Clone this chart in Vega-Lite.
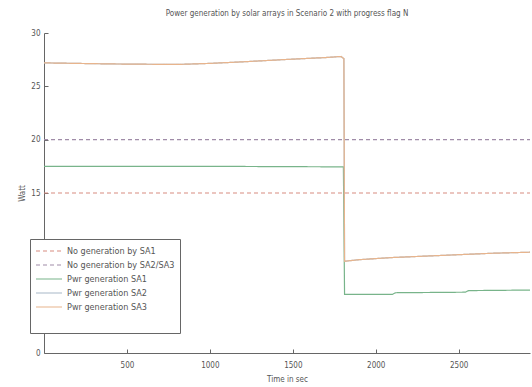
{
  "$schema": "https://vega.github.io/schema/vega-lite/v6.json",
  "width": 486,
  "height": 320,
  "autosize": "none",
  "padding": {"left": 44, "top": 33, "right": 2, "bottom": 34},
  "background": "white",
  "title": {"text": "Power generation by solar arrays in Scenario 2 with progress flag N", "font": "DejaVu Sans Condensed", "fontSize": 8, "fontWeight": "normal", "color": "#555", "offset": 11, "anchor": "middle"},
  "config": {"view": {"stroke": null}},
  "data": {"values": [
    {"t": 0, "w": 15, "series": "No generation by SA1"},
    {"t": 2930, "w": 15, "series": "No generation by SA1"},
    {"t": 0, "w": 20, "series": "No generation by SA2/SA3"},
    {"t": 2930, "w": 20, "series": "No generation by SA2/SA3"},
    {"t": 0, "w": 17.5, "series": "Pwr generation SA1"},
    {"t": 1000, "w": 17.5, "series": "Pwr generation SA1"},
    {"t": 1805, "w": 17.45, "series": "Pwr generation SA1"},
    {"t": 1812, "w": 5.5, "series": "Pwr generation SA1"},
    {"t": 2100, "w": 5.5, "series": "Pwr generation SA1"},
    {"t": 2120, "w": 5.65, "series": "Pwr generation SA1"},
    {"t": 2540, "w": 5.7, "series": "Pwr generation SA1"},
    {"t": 2560, "w": 5.85, "series": "Pwr generation SA1"},
    {"t": 2930, "w": 5.9, "series": "Pwr generation SA1"},
    {"t": 0, "w": 27.2, "series": "Pwr generation SA2"},
    {"t": 400, "w": 27.1, "series": "Pwr generation SA2"},
    {"t": 800, "w": 27.05, "series": "Pwr generation SA2"},
    {"t": 1000, "w": 27.15, "series": "Pwr generation SA2"},
    {"t": 1200, "w": 27.3, "series": "Pwr generation SA2"},
    {"t": 1500, "w": 27.55, "series": "Pwr generation SA2"},
    {"t": 1700, "w": 27.7, "series": "Pwr generation SA2"},
    {"t": 1790, "w": 27.8, "series": "Pwr generation SA2"},
    {"t": 1808, "w": 27.6, "series": "Pwr generation SA2"},
    {"t": 1812, "w": 8.6, "series": "Pwr generation SA2"},
    {"t": 1900, "w": 8.75, "series": "Pwr generation SA2"},
    {"t": 2100, "w": 8.95, "series": "Pwr generation SA2"},
    {"t": 2400, "w": 9.15, "series": "Pwr generation SA2"},
    {"t": 2700, "w": 9.35, "series": "Pwr generation SA2"},
    {"t": 2930, "w": 9.45, "series": "Pwr generation SA2"},
    {"t": 0, "w": 27.2, "series": "Pwr generation SA3"},
    {"t": 400, "w": 27.1, "series": "Pwr generation SA3"},
    {"t": 800, "w": 27.05, "series": "Pwr generation SA3"},
    {"t": 1000, "w": 27.15, "series": "Pwr generation SA3"},
    {"t": 1200, "w": 27.3, "series": "Pwr generation SA3"},
    {"t": 1500, "w": 27.55, "series": "Pwr generation SA3"},
    {"t": 1700, "w": 27.7, "series": "Pwr generation SA3"},
    {"t": 1790, "w": 27.8, "series": "Pwr generation SA3"},
    {"t": 1808, "w": 27.6, "series": "Pwr generation SA3"},
    {"t": 1812, "w": 8.6, "series": "Pwr generation SA3"},
    {"t": 1900, "w": 8.75, "series": "Pwr generation SA3"},
    {"t": 2100, "w": 8.95, "series": "Pwr generation SA3"},
    {"t": 2400, "w": 9.15, "series": "Pwr generation SA3"},
    {"t": 2700, "w": 9.35, "series": "Pwr generation SA3"},
    {"t": 2930, "w": 9.45, "series": "Pwr generation SA3"}
  ]},
  "mark": {"type": "line", "strokeWidth": 1.2, "interpolate": "linear"},
  "encoding": {
    "x": {"field": "t", "type": "quantitative", "scale": {"domain": [0, 2930], "nice": false, "zero": false},
      "axis": {"values": [500, 1000, 1500, 2000, 2500], "format": "d", "title": "Time in sec", "grid": false, "tickSize": -4, "labelPadding": 12,
        "domainColor": "#666", "tickColor": "#666", "labelFont": "DejaVu Sans Condensed", "labelFontSize": 8, "labelColor": "#555",
        "titleFont": "DejaVu Sans Condensed", "titleFontSize": 8, "titleFontWeight": "normal", "titleColor": "#555", "titlePadding": 6}},
    "y": {"field": "w", "type": "quantitative", "scale": {"domain": [0, 30], "nice": false},
      "axis": {"values": [0, 5, 10, 15, 20, 25, 30], "title": "Watt", "grid": false, "tickSize": -4, "labelPadding": 8,
        "domainColor": "#666", "tickColor": "#666", "labelFont": "DejaVu Sans Condensed", "labelFontSize": 8, "labelColor": "#555",
        "titleFont": "DejaVu Sans Condensed", "titleFontSize": 8, "titleFontWeight": "normal", "titleColor": "#555", "titlePadding": 4}},
    "color": {"field": "series", "type": "nominal",
      "scale": {"domain": ["No generation by SA1", "No generation by SA2/SA3", "Pwr generation SA1", "Pwr generation SA2", "Pwr generation SA3"],
        "range": ["#d88c80", "#a08ca8", "#78b48a", "#a8b8c8", "#e8b48c"]},
      "legend": {"orient": "none", "legendX": -14, "legendY": 206, "title": "\u00a0", "titleOrient": "bottom", "titleFontSize": 14, "titlePadding": 0,
        "symbolType": "stroke", "symbolSize": 676, "symbolStrokeWidth": 1.2, "clipHeight": 14,
        "labelFont": "DejaVu Sans Condensed", "labelFontSize": 9, "labelColor": "#555", "rowPadding": 0,
        "fillColor": "white", "strokeColor": "#666", "padding": 5, "labelOffset": 4}},
    "strokeDash": {"field": "series", "type": "nominal",
      "scale": {"domain": ["No generation by SA1", "No generation by SA2/SA3", "Pwr generation SA1", "Pwr generation SA2", "Pwr generation SA3"],
        "range": [[4, 3], [4, 3], [1, 0], [1, 0], [1, 0]]}}
  }
}
